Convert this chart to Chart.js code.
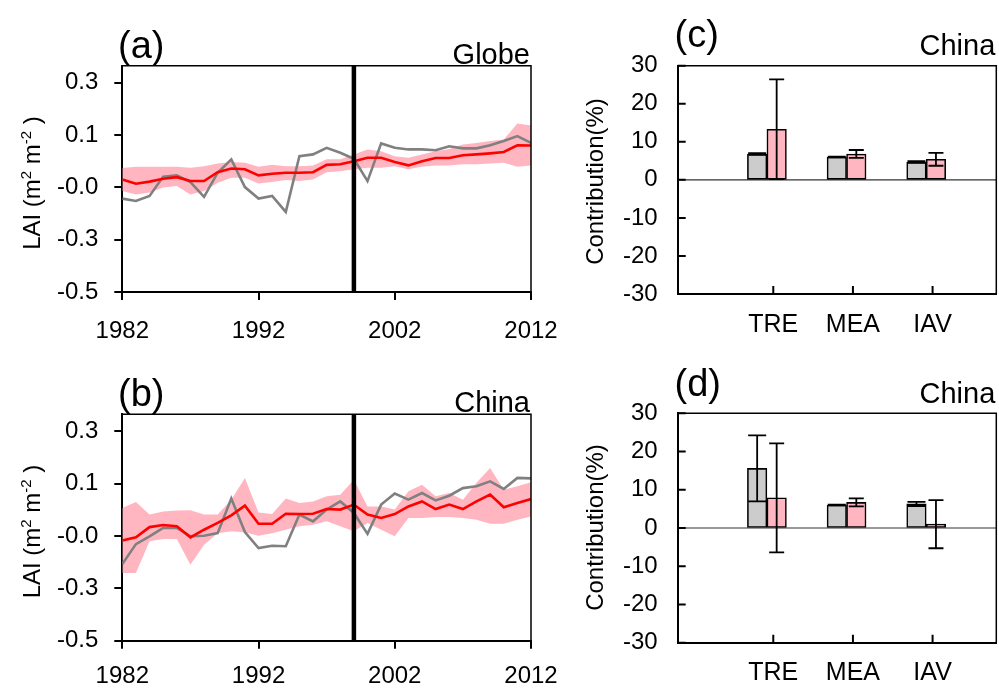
<!DOCTYPE html>
<html lang="en">
<head>
<meta charset="UTF-8">
<title>LAI anomalies and contributions</title>
<script src="https://cdn.jsdelivr.net/npm/chart.js"></script>
<style>
  body { margin: 0; background: #fff; width: 999px; height: 688px; position: relative; overflow: hidden; }
  canvas { position: absolute; }
</style>
</head>
<body>
<canvas id="panelA" width="560" height="350" style="left:0;top:0"></canvas>
<canvas id="panelB" width="560" height="338" style="left:0;top:350px"></canvas>
<canvas id="panelC" width="439" height="350" style="left:560px;top:0"></canvas>
<canvas id="panelD" width="439" height="338" style="left:560px;top:350px"></canvas>

<script>
// ---- data ----
const years = [1982, 1983, 1984, 1985, 1986, 1987, 1988, 1989, 1990, 1991, 1992, 1993, 1994, 1995, 1996, 1997,
               1998, 1999, 2000, 2001, 2002, 2003, 2004, 2005, 2006, 2007, 2008, 2009, 2010, 2011, 2012];
const yearTicks = [1982, 1992, 2002, 2012];
const splitYear = 1999;
const laiTicks = [-0.5, -0.3, -0.1, 0.1, 0.3];
const laiTickLabels = ['-0.5', '-0.3', '-0.0', '0.1', '0.3'];

// (a) Globe
const globeObs = [-0.143, -0.152, -0.133, -0.059, -0.054, -0.080, -0.136, -0.044, 0.007, -0.099, -0.143, -0.133, -0.194, 0.019, 0.026, 0.051,
                  0.032, 0.009, -0.076, 0.068, 0.051, 0.045, 0.045, 0.042, 0.057, 0.049, 0.049, 0.061, 0.077, 0.096, 0.070];
const globeMean = [-0.070, -0.086, -0.078, -0.067, -0.061, -0.076, -0.076, -0.042, -0.028, -0.031, -0.054, -0.048, -0.044, -0.044, -0.042, -0.014,
                   -0.012, 0.000, 0.013, 0.013, -0.003, -0.016, 0.000, 0.012, 0.012, 0.023, 0.026, 0.030, 0.035, 0.061, 0.060];
const globeHigh = [-0.026, -0.021, -0.021, -0.021, -0.021, -0.025, -0.019, -0.009, -0.003, -0.006, -0.021, -0.014, -0.019, -0.019, -0.016, 0.007,
                   0.007, 0.026, 0.045, 0.038, 0.019, 0.013, 0.026, 0.038, 0.047, 0.064, 0.070, 0.077, 0.083, 0.144, 0.136];
const globeLow = [-0.114, -0.127, -0.120, -0.101, -0.095, -0.127, -0.114, -0.082, -0.063, -0.063, -0.085, -0.080, -0.072, -0.076, -0.070, -0.042,
                  -0.038, -0.031, -0.025, -0.025, -0.019, -0.031, -0.021, -0.016, -0.016, -0.012, -0.012, -0.009, -0.006, -0.021, -0.016];

// (b) China
const chinaObs = [-0.207, -0.131, -0.101, -0.069, -0.069, -0.101, -0.099, -0.089, 0.043, -0.085, -0.146, -0.137, -0.139, -0.018, -0.044, 0.001,
                  0.032, -0.012, -0.092, 0.020, 0.062, 0.039, 0.064, 0.036, 0.054, 0.083, 0.090, 0.109, 0.080, 0.122, 0.120];
const chinaMean = [-0.117, -0.105, -0.066, -0.058, -0.063, -0.105, -0.076, -0.050, -0.021, 0.016, -0.053, -0.053, -0.015, -0.016, -0.015, 0.003,
                   0.001, 0.020, -0.018, -0.031, -0.016, 0.013, 0.032, 0.003, 0.020, 0.003, 0.032, 0.058, 0.010, 0.026, 0.041];
const chinaHigh = [0.007, 0.030, -0.018, -0.006, -0.003, -0.002, -0.018, -0.018, 0.039, 0.122, -0.010, -0.016, 0.043, 0.026, 0.032, 0.052,
                   0.058, 0.115, 0.013, 0.013, 0.001, 0.071, 0.096, 0.052, 0.064, 0.039, 0.103, 0.160, 0.077, 0.090, 0.105];
const chinaLow = [-0.241, -0.241, -0.120, -0.111, -0.111, -0.210, -0.133, -0.089, -0.082, -0.086, -0.099, -0.089, -0.076, -0.063, -0.057, -0.044,
                  -0.063, -0.082, -0.050, -0.076, -0.101, -0.031, -0.031, -0.027, -0.027, -0.031, -0.038, -0.053, -0.053, -0.038, -0.025];

// (c), (d) contributions
const categories = ['TRE', 'MEA', 'IAV'];
const cGray = [6.8, 6.0, 4.7];
const cGrayErr = [0.2, 0.1, 0.2];
const cPink = [13.3, 6.8, 5.4];
const cPinkErr = [13.1, 1.05, 1.7];
const dGray = [15.6, 6.0, 6.3];
const dGrayErr = [8.65, 0.1, 0.55];
const dPink = [7.9, 6.7, 1.0];
const dPinkErr = [14.25, 1.05, 6.3];

// ---- drawing ----
const FONT = '"Liberation Sans", Arial, sans-serif';
Chart.defaults.font.family = FONT;
Chart.defaults.color = '#000';
Chart.defaults.animation = false;
Chart.defaults.plugins.legend.display = false;
Chart.defaults.plugins.tooltip.enabled = false;

const PINK = '#ffb6c1';
const GRAY_BAR = '#cccccc';

function drawYTitle(ctx, parts, bx, cy) {
  ctx.save();
  ctx.translate(bx, cy);
  ctx.rotate(-Math.PI / 2);
  let w = 0;
  parts.forEach(p => { ctx.font = (p.sup ? 15 : 24) + 'px ' + FONT; w += ctx.measureText(p.t).width; });
  let x = -w / 2;
  ctx.textAlign = 'left';
  ctx.textBaseline = 'alphabetic';
  parts.forEach(p => {
    ctx.font = (p.sup ? 15 : 24) + 'px ' + FONT;
    ctx.fillText(p.t, x, p.sup ? -9 : 0);
    x += ctx.measureText(p.t).width;
  });
  ctx.restore();
}

const decor = {
  id: 'decor',
  beforeDatasetsDraw(chart, args, o) {
    if (!o.zeroLine) return;
    const {ctx, chartArea: a} = chart;
    const y0 = chart.scales.y.getPixelForValue(0);
    ctx.save();
    ctx.strokeStyle = '#333';
    ctx.lineWidth = 1.2;
    ctx.beginPath(); ctx.moveTo(a.left, y0); ctx.lineTo(a.right, y0); ctx.stroke();
    ctx.restore();
  },
  afterDatasetsDraw(chart, args, o) {
    const {ctx, chartArea: a} = chart;
    ctx.save();
    ctx.strokeStyle = '#000';
    // error bars
    chart.data.datasets.forEach((ds, di) => {
      if (!ds.err) return;
      ctx.lineWidth = 1.8;
      chart.getDatasetMeta(di).data.forEach((bar, i) => {
        const v = ds.data[i].y, e = ds.err[i];
        const yHi = chart.scales.y.getPixelForValue(v + e);
        const yLo = chart.scales.y.getPixelForValue(v - e);
        const h = ds.cap / 2, x = bar.x;
        ctx.beginPath();
        ctx.moveTo(x, yHi); ctx.lineTo(x, yLo);
        ctx.moveTo(x - h, yHi); ctx.lineTo(x + h, yHi);
        ctx.moveTo(x - h, yLo); ctx.lineTo(x + h, yLo);
        ctx.stroke();
      });
    });
    // split year line
    if (o.split) {
      const xs = chart.scales.x.getPixelForValue(o.split);
      ctx.lineWidth = 4.5;
      ctx.beginPath(); ctx.moveTo(xs, a.top); ctx.lineTo(xs, a.bottom); ctx.stroke();
    }
    ctx.restore();
  },
  afterDraw(chart, args, o) {
    const {ctx, chartArea: a} = chart;
    ctx.save();
    ctx.strokeStyle = '#000';
    // inner ticks for the bar panels
    if (o.innerTicks) {
      ctx.lineWidth = 2;
      ctx.beginPath();
      chart.scales.y.ticks.forEach(t => {
        const y = chart.scales.y.getPixelForValue(t.value);
        ctx.moveTo(a.left, y); ctx.lineTo(a.left + 8, y);
      });
      chart.scales.x.ticks.forEach(t => {
        const x = chart.scales.x.getPixelForValue(t.value);
        ctx.moveTo(x, a.bottom); ctx.lineTo(x, a.bottom - 8);
      });
      ctx.stroke();
    }
    // top and right frame
    ctx.lineWidth = 1.5;
    ctx.beginPath();
    ctx.moveTo(a.left, a.top); ctx.lineTo(a.right, a.top); ctx.lineTo(a.right, a.bottom);
    ctx.stroke();
    // texts
    ctx.fillStyle = '#000';
    ctx.textBaseline = 'alphabetic';
    ctx.font = '38px ' + FONT;
    ctx.textAlign = 'left';
    ctx.fillText(o.letter, o.letterX, a.top + o.letterDy);
    ctx.font = '29px ' + FONT;
    ctx.textAlign = 'right';
    ctx.fillText(o.region, a.right - 1, a.top + o.regionDy);
    ctx.restore();
    drawYTitle(ctx, o.yTitle, o.yTitleX, o.yTitleY);
  }
};

const laiTitle = [{t: 'LAI (m'}, {t: '2', sup: true}, {t: ' m'}, {t: '-2', sup: true}, {t: ' )'}];
const contribTitle = [{t: 'Contribution(%)'}];

function fixScale(box, H) {
  return {
    x: s => { s.height = H - box.bottom; s.paddingLeft = 0; s.paddingRight = 0; },
    y: s => { s.width = box.left; s.paddingTop = 0; s.paddingBottom = 0; }
  };
}

function linePanel(id, box, obs, mean, high, low, text) {
  const cv = document.getElementById(id);
  const fit = fixScale(box, cv.height);
  const pts = vals => vals.map((v, i) => ({x: years[i], y: v}));
  return new Chart(cv, {
    type: 'line',
    data: {
      datasets: [
        {data: pts(mean), borderColor: '#ff0000', borderWidth: 2.6, order: 0},
        {data: pts(obs), borderColor: '#808080', borderWidth: 2.6, order: 1},
        {data: pts(high), borderColor: 'transparent', borderWidth: 0, backgroundColor: PINK, fill: '+1', order: 2},
        {data: pts(low), borderColor: 'transparent', borderWidth: 0, order: 3}
      ]
    },
    options: {
      responsive: false,
      layout: {padding: {left: 0, top: box.top, right: cv.width - box.right, bottom: 0}},
      elements: {point: {radius: 0}, line: {tension: 0}},
      scales: {
        x: {
          type: 'linear', min: years[0], max: years[years.length - 1],
          afterBuildTicks: s => { s.ticks = yearTicks.map(v => ({value: v})); },
          afterFit: fit.x,
          grid: {drawOnChartArea: false, color: '#000', lineWidth: 2, tickLength: 8},
          border: {color: '#000', width: 2},
          ticks: {font: {size: 24}, padding: text.xPad, maxRotation: 0, autoSkip: false, callback: v => String(v)}
        },
        y: {
          type: 'linear', min: -0.5, max: 0.365,
          afterBuildTicks: s => { s.ticks = laiTicks.map(v => ({value: v})); },
          afterFit: fit.y,
          grid: {drawOnChartArea: false, color: '#000', lineWidth: 2, tickLength: 8},
          border: {color: '#000', width: 2},
          ticks: {font: {size: 24}, padding: 16, callback: (v, i) => laiTickLabels[i]}
        }
      },
      plugins: {decor: Object.assign({split: splitYear, yTitle: laiTitle}, text)}
    },
    plugins: [decor]
  });
}

function barPanel(id, box, gray, grayErr, pink, pinkErr, text) {
  const cv = document.getElementById(id);
  const fit = fixScale(box, cv.height);
  const barShift = -0.08;
  const pts = vals => vals.map((v, i) => ({x: i + 1.2 + barShift, y: v}));
  return new Chart(cv, {
    type: 'bar',
    data: {
      datasets: [
        {data: pts(gray), err: grayErr, cap: 18, backgroundColor: GRAY_BAR},
        {data: pts(pink), err: pinkErr, cap: 15, backgroundColor: PINK}
      ]
    },
    options: {
      responsive: false,
      layout: {padding: {left: 0, top: box.top, right: cv.width - box.right, bottom: 0}},
      datasets: {bar: {barThickness: 19.5, borderColor: '#000', borderWidth: 1.6, borderSkipped: false}},
      scales: {
        x: {
          type: 'linear', min: 0, max: 4, offset: false,
          afterBuildTicks: s => { s.ticks = categories.map((c, i) => ({value: i + 1.2})); },
          afterFit: fit.x,
          grid: {drawOnChartArea: false, drawTicks: false},
          border: {color: '#000', width: 2},
          ticks: {font: {size: 25}, padding: text.xPad, maxRotation: 0, autoSkip: false, callback: (v, i) => categories[i]}
        },
        y: {
          type: 'linear', min: -30, max: 30,
          ticks: {stepSize: 10, font: {size: 24}, padding: 20},
          afterFit: fit.y,
          grid: {drawOnChartArea: false, drawTicks: false},
          border: {color: '#000', width: 2}
        }
      },
      plugins: {decor: Object.assign({zeroLine: true, innerTicks: true, yTitle: contribTitle}, text)}
    },
    plugins: [decor]
  });
}

linePanel('panelA', {left: 122.3, right: 531, top: 65.7, bottom: 292}, globeObs, globeMean, globeHigh, globeLow,
  {letter: '(a)', letterX: 118, letterDy: -8.2, region: 'Globe', regionDy: -1.7, yTitleX: 40, yTitleY: 183, xPad: 17});
linePanel('panelB', {left: 122.3, right: 531, top: 64.3, bottom: 290.7}, chinaObs, chinaMean, chinaHigh, chinaLow,
  {letter: '(b)', letterX: 118, letterDy: -8.2, region: 'China', regionDy: -2, yTitleX: 40, yTitleY: 181.5, xPad: 13});
barPanel('panelC', {left: 117.7, right: 436.3, top: 65.7, bottom: 294}, cGray, cGrayErr, cPink, cPinkErr,
  {letter: '(c)', letterX: 114.5, letterDy: -18.3, region: 'China', regionDy: -10.7, yTitleX: 43.3, yTitleY: 181.5, xPad: 16});
barPanel('panelD', {left: 117.7, right: 436.3, top: 63.3, bottom: 292.7}, dGray, dGrayErr, dPink, dPinkErr,
  {letter: '(d)', letterX: 114.5, letterDy: -17.6, region: 'China', regionDy: -10.3, yTitleX: 43.3, yTitleY: 177.5, xPad: 15});
</script>
</body>
</html>
